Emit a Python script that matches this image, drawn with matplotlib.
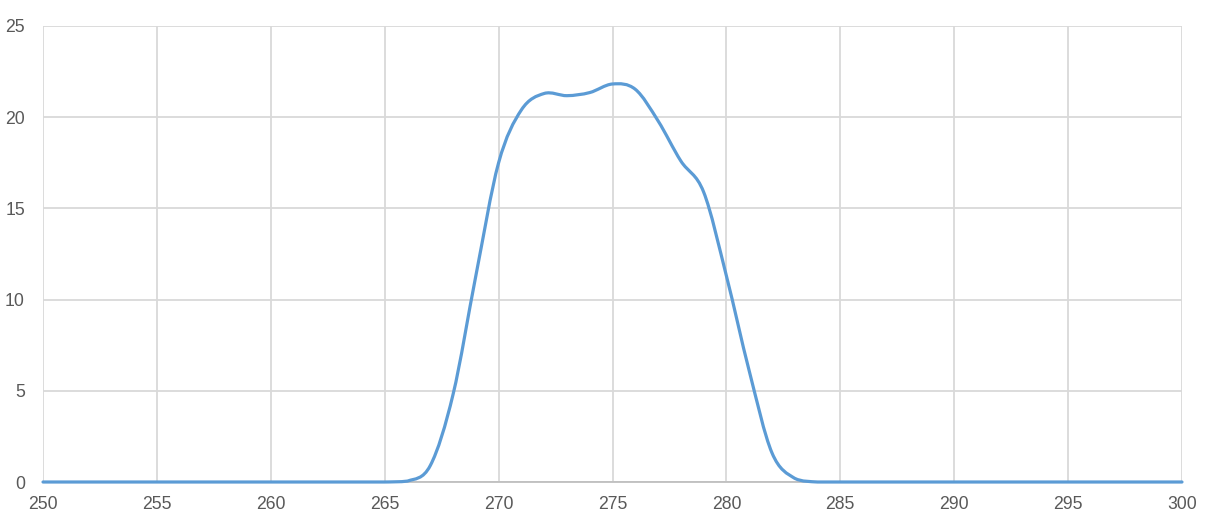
import numpy as np
import matplotlib
matplotlib.use('Agg')
import matplotlib.pyplot as plt
from matplotlib.path import Path
from matplotlib.patches import PathPatch

plt.rcParams['font.family'] = ['Liberation Sans', 'DejaVu Sans']

# 波長 (nm) 與對應數值
wavelength = list(range(250, 301))
values = [0.0] * 16 + [0.05, 0.9, 4.8, 11.3, 17.5, 20.4, 21.3, 21.18, 21.35, 21.82,
                       21.53, 19.8, 17.6, 15.9, 11.3, 6.1, 1.6, 0.2] + [0.0] * 17

x_ticks = list(range(250, 301, 5))
y_ticks = [0, 5, 10, 15, 20, 25]

LINE_COLOR = '#5B9BD5'
GRID_COLOR = '#D9D9D9'
TEXT_COLOR = '#595959'


def smooth_path(xs, ys):
    # 類似 Excel 平滑線：Catmull-Rom 轉 Bezier（控制點不低於 0）
    xs = np.asarray(xs, float)
    ys = np.asarray(ys, float)
    pts = np.column_stack([xs, ys])
    n = len(pts)
    verts = [pts[0]]
    codes = [Path.MOVETO]
    for i in range(n - 1):
        p0 = pts[i - 1] if i > 0 else pts[i]
        p1 = pts[i]
        p2 = pts[i + 1]
        p3 = pts[i + 2] if i + 2 < n else pts[i + 1]
        c1 = p1 + (p2 - p0) / 6.0
        c2 = p2 - (p3 - p1) / 6.0
        c1[1] = max(c1[1], 0.0)
        c2[1] = max(c2[1], 0.0)
        verts += [c1, c2, p2]
        codes += [Path.CURVE4] * 3
    return Path(verts, codes)


fig = plt.figure(figsize=(12.05, 5.25), dpi=100)
ax = fig.add_axes([0.0357, 0.0819, 0.9452, 0.8686])

patch = PathPatch(smooth_path(wavelength, values), facecolor='none',
                  edgecolor=LINE_COLOR, linewidth=2.3, capstyle='round',
                  joinstyle='round', zorder=3, clip_on=False)
ax.add_patch(patch)

ax.set_xlim(250, 300)
ax.set_ylim(0, 25)
ax.set_xticks(x_ticks)
ax.set_yticks(y_ticks)
ax.tick_params(length=0, labelsize=12.7, labelcolor=TEXT_COLOR)
ax.tick_params(axis='y', pad=13)
ax.tick_params(axis='x', pad=10)
ax.grid(True, color=GRID_COLOR, linewidth=1.3, zorder=0)
ax.set_axisbelow(True)

for side in ['top', 'right', 'left']:
    ax.spines[side].set_visible(False)
ax.spines['bottom'].set_color('#BFBFBF')
ax.spines['bottom'].set_linewidth(1.3)

plt.savefig('out.png', dpi=100, facecolor='white')
plt.close()
